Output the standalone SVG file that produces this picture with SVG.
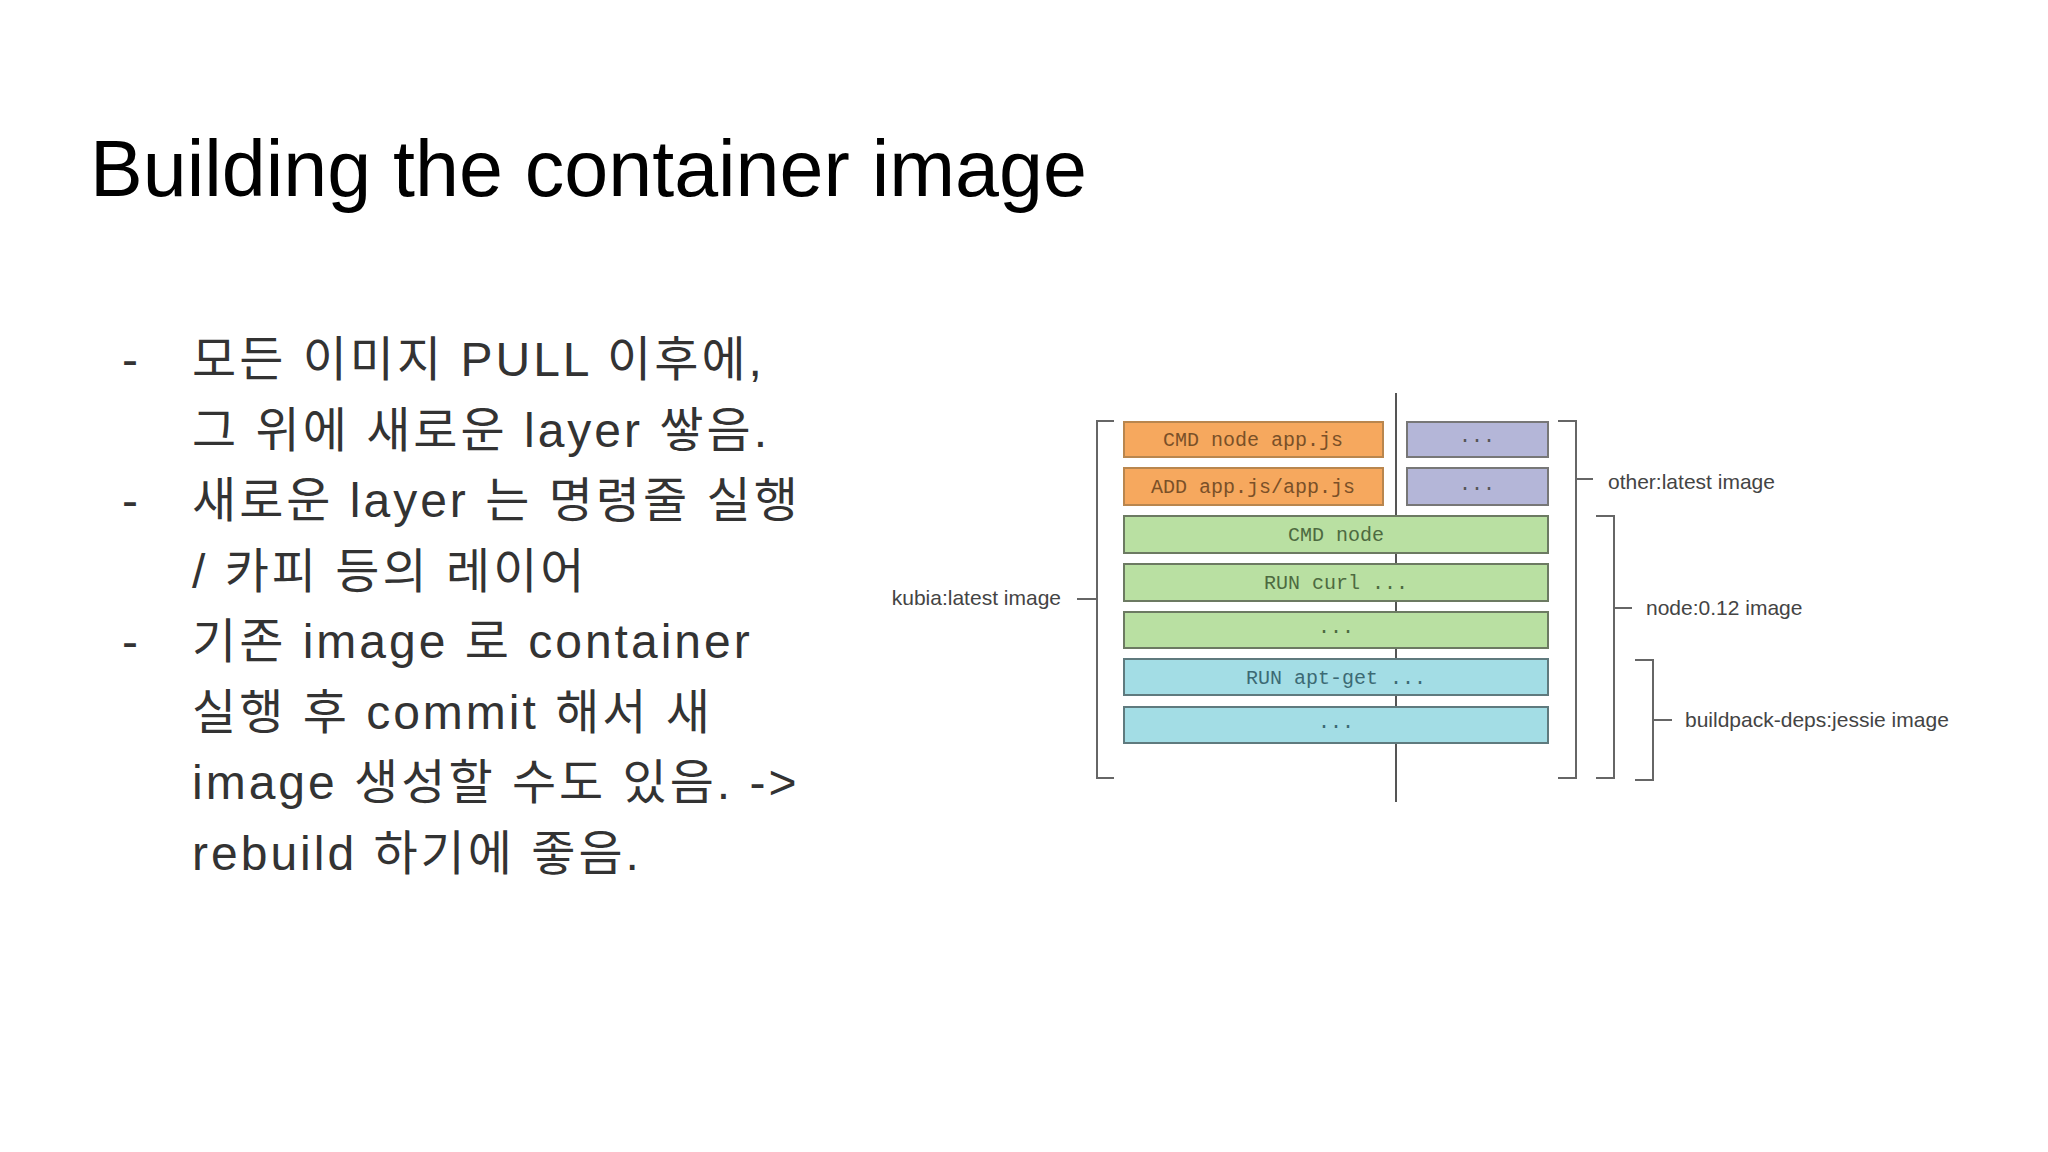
<svg xmlns="http://www.w3.org/2000/svg" width="2048" height="1152" viewBox="0 0 2048 1152">
<style>
.t{font-family:"Liberation Sans","Noto Sans CJK KR",sans-serif;fill:#333}
.b{font-size:48px;letter-spacing:3px}
.m{font-family:"Liberation Mono","DejaVu Sans Mono",monospace;font-size:20px;text-anchor:middle}
.l{font-family:"Liberation Sans",sans-serif;font-size:21px;fill:#444}
.br{fill:none;stroke:#666;stroke-width:2}
.or{fill:#f6a85e;stroke:#b9864e;stroke-width:2}
.pu{fill:#b4b6d8;stroke:#777;stroke-width:2}
.gr{fill:#b9e0a2;stroke:#6c7a62;stroke-width:2}
.cy{fill:#a3dde5;stroke:#5f7a7e;stroke-width:2}
</style>
<rect width="2048" height="1152" fill="#fff"/>
<text x="90" y="196" font-size="79" fill="#000" font-family="Liberation Sans, sans-serif">Building the container image</text>
<g id="bullets" class="t b">
<text x="122" y="376">-</text><text x="192" y="376">모든 이미지 PULL 이후에,</text>
<text x="192" y="447">그 위에 새로운 layer 쌓음.</text>
<text x="122" y="517">-</text><text x="192" y="517">새로운 layer 는 명령줄 실행</text>
<text x="192" y="588">/ 카피 등의 레이어</text>
<text x="122" y="658">-</text><text x="192" y="658">기존 image 로 container</text>
<text x="192" y="729">실행 후 commit 해서 새</text>
<text x="192" y="799">image 생성할 수도 있음. -&gt;</text>
<text x="192" y="870">rebuild 하기에 좋음.</text>
</g>
<g id="connectors">
<line x1="1396" y1="393" x2="1396" y2="802" stroke="#555" stroke-width="2"/>
<path class="br" d="M1114 421H1097V778H1114M1077 599H1097"/>
<path class="br" d="M1558 421H1576V778H1558M1576 479H1593"/>
<path class="br" d="M1596 516H1614V778H1596M1614 608H1632"/>
<path class="br" d="M1635 660H1653V780H1635M1653 720H1672"/>
</g>
<g id="n1"><rect class="or" x="1124" y="422" width="259" height="35"/><text class="m" x="1253" y="446" fill="#7a5028">CMD node app.js</text></g>
<g id="n2"><rect class="or" x="1124" y="468" width="259" height="37"/><text class="m" x="1253" y="493" fill="#7a5028">ADD app.js/app.js</text></g>
<g id="n3"><rect class="pu" x="1407" y="422" width="141" height="35"/><text class="m" x="1477" y="442" fill="#555">...</text></g>
<g id="n4"><rect class="pu" x="1407" y="468" width="141" height="37"/><text class="m" x="1477" y="490" fill="#555">...</text></g>
<g id="n5"><rect class="gr" x="1124" y="516" width="424" height="37"/><text class="m" x="1336" y="541" fill="#4d6a40">CMD node</text></g>
<g id="n6"><rect class="gr" x="1124" y="564" width="424" height="37"/><text class="m" x="1336" y="589" fill="#4d6a40">RUN curl ...</text></g>
<g id="n7"><rect class="gr" x="1124" y="612" width="424" height="36"/><text class="m" x="1336" y="633" fill="#4d6a40">...</text></g>
<g id="n8"><rect class="cy" x="1124" y="659" width="424" height="36"/><text class="m" x="1336" y="684" fill="#3c6a74">RUN apt-get ...</text></g>
<g id="n9"><rect class="cy" x="1124" y="707" width="424" height="36"/><text class="m" x="1336" y="728" fill="#3c6a74">...</text></g>
<g id="labels">
<text class="l" x="1061" y="605" text-anchor="end">kubia:latest image</text>
<text class="l" x="1608" y="489">other:latest image</text>
<text class="l" x="1646" y="615">node:0.12 image</text>
<text class="l" x="1685" y="727">buildpack-deps:jessie image</text>
</g>
</svg>
